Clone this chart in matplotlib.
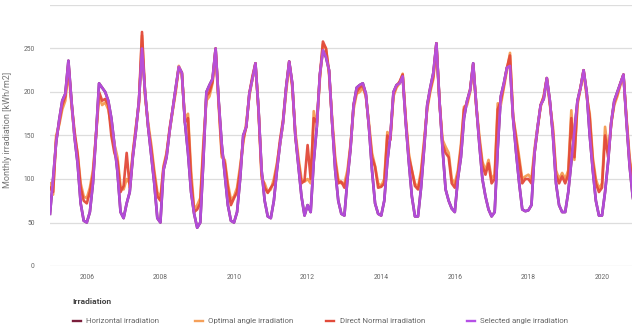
import matplotlib
matplotlib.use("Agg")
import matplotlib.pyplot as plt
from matplotlib.lines import Line2D
import numpy as np

plt.rcParams['font.family'] = ['Roboto', 'DejaVu Sans']

years = list(range(2005, 2021))
months = [y + m / 12 for y in years for m in range(12)]

selected = [
    60, 100, 142, 168, 190, 198, 236, 190, 148, 118, 72, 52,
    50, 62, 95, 150, 210, 205, 200, 190, 170, 140, 108, 62,
    55, 72, 85, 125, 155, 190, 250, 200, 160, 128, 95, 55,
    50, 110, 125, 155, 180, 205, 229, 222, 165, 130, 85, 60,
    44, 50, 120, 200, 208, 215, 250, 190, 140, 105, 70, 52,
    50, 62, 100, 150, 160, 198, 215, 233, 180, 110, 75, 57,
    55, 75, 110, 140, 165, 205, 235, 210, 150, 115, 80, 58,
    70, 62, 120, 160, 220, 248, 240, 225, 165, 110, 75, 60,
    58, 100, 135, 185, 205, 208, 210, 198, 160, 110, 72, 60,
    58, 75, 120, 150, 200, 208, 210, 218, 165, 120, 80, 57,
    57, 90, 135, 185, 205, 222, 256, 190, 135, 88, 75, 66,
    62, 100, 125, 170, 190, 202, 233, 185, 140, 100, 80, 65,
    57, 62, 135, 195, 210, 228, 230, 170, 130, 95, 65, 63,
    64, 70, 130, 160, 185, 192, 216, 190, 150, 95, 70, 62,
    62, 85, 120, 155, 190, 205, 225, 200, 150, 110, 75, 58,
    58, 85, 120, 165, 190, 200, 210, 220, 165, 115, 80, 60,
]

horizontal = [
    60, 100, 142, 168, 190, 198, 236, 190, 148, 118, 72, 52,
    50, 62, 95, 150, 210, 205, 200, 190, 170, 140, 108, 62,
    55, 72, 85, 125, 155, 190, 250, 200, 160, 128, 95, 55,
    50, 110, 125, 155, 180, 205, 229, 222, 165, 130, 85, 60,
    44, 50, 120, 200, 208, 215, 250, 190, 140, 105, 70, 52,
    50, 62, 100, 150, 160, 198, 215, 233, 180, 110, 75, 57,
    55, 75, 110, 140, 165, 205, 235, 210, 150, 115, 80, 58,
    70, 62, 120, 160, 220, 248, 240, 225, 165, 110, 75, 60,
    58, 100, 135, 185, 205, 208, 210, 198, 160, 110, 72, 60,
    58, 75, 120, 150, 200, 208, 210, 218, 165, 120, 80, 57,
    57, 90, 135, 185, 205, 222, 256, 190, 135, 88, 75, 66,
    62, 100, 125, 170, 190, 202, 233, 185, 140, 100, 80, 65,
    57, 62, 135, 195, 210, 228, 230, 170, 130, 95, 65, 63,
    64, 70, 130, 160, 185, 192, 216, 190, 150, 95, 70, 62,
    62, 85, 120, 155, 190, 205, 225, 200, 150, 110, 75, 58,
    58, 85, 120, 165, 190, 200, 210, 220, 165, 115, 80, 60,
]

optimal = [
    95, 82, 150, 162, 180, 190, 225, 185, 150, 130, 95, 80,
    78, 90, 110, 150, 195, 185, 188, 180, 160, 140, 125, 92,
    88, 100, 95, 130, 160, 185, 265, 195, 165, 140, 110, 85,
    78, 115, 130, 155, 178, 200, 230, 220, 170, 175, 110, 65,
    70, 78, 141, 190, 195, 210, 245, 185, 125, 122, 95, 76,
    80, 90, 115, 141, 165, 195, 215, 230, 180, 100, 95, 85,
    88, 100, 118, 140, 165, 200, 232, 205, 155, 125, 100, 97,
    100, 95, 178, 160, 215, 255, 250, 220, 170, 125, 100, 95,
    95, 110, 140, 180, 198, 200, 205, 195, 165, 130, 115, 95,
    92, 100, 154, 150, 195, 205, 210, 221, 170, 130, 110, 95,
    90, 110, 145, 180, 200, 215, 252, 188, 145, 137, 130, 100,
    95, 110, 140, 183, 185, 200, 230, 185, 150, 120, 110, 122,
    100, 105, 187, 185, 205, 225, 245, 172, 150, 125, 100, 103,
    105, 100, 135, 160, 183, 195, 215, 185, 160, 110, 100, 107,
    100, 110, 179, 122, 185, 205, 222, 195, 175, 125, 100, 89,
    95, 160, 130, 165, 185, 195, 208, 218, 170, 125, 100, 90,
]

direct_normal = [
    90, 85, 145, 165, 185, 195, 232, 188, 155, 128, 90, 75,
    72, 85, 105, 150, 200, 190, 192, 185, 150, 130, 120, 85,
    92, 130, 90, 128, 158, 188, 269, 198, 160, 135, 105, 80,
    75, 112, 128, 158, 180, 203, 228, 222, 165, 170, 100, 62,
    65, 72, 135, 195, 200, 212, 250, 188, 130, 118, 90, 70,
    78, 85, 110, 145, 160, 198, 218, 233, 178, 105, 90, 84,
    90, 95, 115, 145, 168, 205, 235, 208, 150, 120, 95, 98,
    139, 100, 170, 165, 218, 258, 250, 223, 165, 120, 95, 97,
    90, 105, 138, 185, 200, 205, 208, 196, 160, 125, 114, 90,
    91, 95, 150, 145, 198, 207, 212, 220, 168, 125, 110, 92,
    88, 105, 140, 183, 203, 218, 256, 190, 140, 130, 125, 95,
    90, 105, 135, 180, 188, 203, 232, 183, 145, 115, 105, 118,
    95, 100, 180, 190, 208, 228, 242, 172, 145, 120, 95, 100,
    100, 95, 130, 158, 185, 195, 216, 188, 155, 105, 95, 103,
    95, 105, 170, 125, 188, 205, 225, 198, 170, 120, 95, 85,
    90, 150, 125, 163, 188, 198, 210, 220, 168, 120, 95, 85,
]

series_names = ["Horizontal irradiation", "Optimal angle irradiation",
                "Direct Normal irradiation", "Selected angle irradiation"]
colors = ["#7b1e3c", "#f5a05a", "#e24a3a", "#b550e6"]
tick_years = [2006, 2008, 2010, 2012, 2014, 2016, 2018, 2020]
y_ticks = [0, 50, 100, 150, 200, 250]

W, H = 632, 329
fig = plt.figure(figsize=(W / 100, H / 100), dpi=100)
ax = fig.add_axes([50 / W, 1 - 266 / H, (W - 50) / W, (266 - 5) / H])

for vals, c, lw, a in zip([horizontal, optimal, direct_normal, selected], colors,
                          [1.9, 1.9, 1.9, 1.9], [1, 1, 0.95, 0.92]):
    ax.plot(months, vals, color=c, lw=lw, alpha=a, solid_joinstyle='round')

ax.set_ylim(0, 300)
ax.set_xlim(2005, 2005 + 582 / 36.8)
for v in [0, 50, 100, 150, 200, 250, 300]:
    ax.axhline(v, color="#dddddd", lw=0.9, zorder=0)
ax.set_yticks(y_ticks)
ax.set_yticklabels([str(v) for v in y_ticks])
ax.set_xticks(tick_years)
ax.set_xticklabels([str(y) for y in tick_years])
ax.tick_params(axis='both', length=0, labelsize=4.9, labelcolor="#666666")
ax.tick_params(axis='y', pad=11)
ax.tick_params(axis='x', pad=6)
for s in ax.spines.values():
    s.set_visible(False)
ax.set_ylabel("Monthly irradiation [kWh/m2]", fontsize=6.5, color="#777777")
ax.yaxis.set_label_coords(-38 / (W - 50), 0.52)

# legend
fig.text(72 / W, 1 - 302 / H, "Irradiation", fontsize=6.0, color="#444444",
         fontweight="bold", va="center", ha="left")
sw_x = [73, 195, 326, 467]
tx_x = [86, 208, 340, 480]
ly = 1 - 321 / H
for name, c, sx, tx in zip(series_names, colors, sw_x, tx_x):
    fig.add_artist(Line2D([sx / W, (sx + 8) / W], [ly, ly], color=c, lw=1.7,
                          transform=fig.transFigure))
    fig.text(tx / W, ly, name, fontsize=5.7, color="#666666", va="center",
             ha="left")

fig.savefig("out.png", dpi=100, facecolor="white")
